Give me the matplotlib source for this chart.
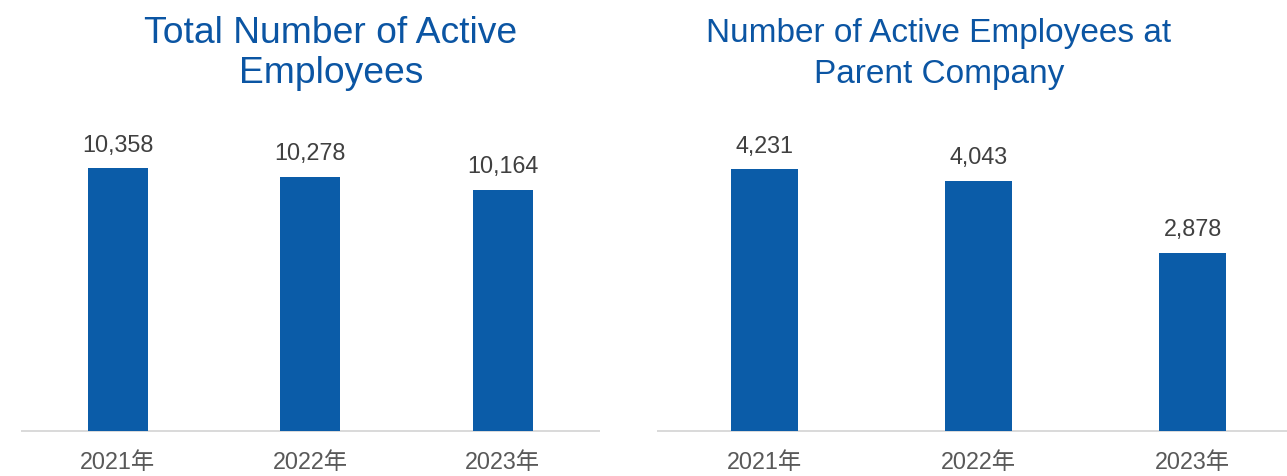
import matplotlib
matplotlib.use("Agg")
import matplotlib.pyplot as plt

years = ["2021年", "2022年", "2023年"]
total_employees = [10358, 10278, 10164]
parent_employees = [4231, 4043, 2878]
titles = ["Total Number of Active\nEmployees", "Number of Active Employees at\nParent Company"]

W, H = 1287, 476
DPI = 100
BAR_COLOR = "#0B5CA8"
TITLE_COLOR = "#0B55A3"
VALUE_COLOR = "#404040"
TICK_COLOR = "#595959"
AXIS_COLOR = "#D9D9D9"
FONTS = ["Liberation Sans", "Noto Sans CJK SC", "DejaVu Sans"]

plt.rcParams["font.family"] = FONTS

fig = plt.figure(figsize=(W / DPI, H / DPI), dpi=DPI)

def px_rect(left, top, right, bottom):
    return [left / W, 1 - bottom / H, (right - left) / W, (bottom - top) / H]

axes_specs = [
    dict(rect=px_rect(21.7, 100, 599.0, 430.7), data=total_employees, ylim=(8000, 10971),
         title_x=331, title_size=26.8, baselines=(43.3, 83.3)),
    dict(rect=px_rect(657.7, 100, 1299.7, 430.7), data=parent_employees, ylim=(0, 5351),
         title_x=939, title_size=24.0, baselines=(41.7, 83.3)),
]

for spec, title in zip(axes_specs, titles):
    ax = fig.add_axes(spec["rect"])
    x = range(len(years))
    bars = ax.bar(x, spec["data"], width=0.312, color=BAR_COLOR, zorder=3)
    ax.set_xlim(-0.5, len(years) - 0.5)
    ax.set_ylim(*spec["ylim"])
    for s in ["top", "right", "left"]:
        ax.spines[s].set_visible(False)
    ax.spines["bottom"].set_color(AXIS_COLOR)
    ax.spines["bottom"].set_linewidth(1.4)
    ax.spines["bottom"].set_zorder(2)
    ax.set_yticks([])
    ax.set_xticks(list(x))
    ax.set_xticklabels(years, fontsize=16.8, color=TICK_COLOR)
    ax.tick_params(axis="x", length=0, pad=14.5)
    for rect, v in zip(bars, spec["data"]):
        ax.annotate(f"{v:,}", xy=(rect.get_x() + rect.get_width() / 2, rect.get_y() + rect.get_height()),
                    xytext=(0, 12), textcoords="offset points",
                    ha="center", va="baseline", fontsize=16.8, color=VALUE_COLOR)
    ax.patch.set_alpha(0)
    for line, base in zip(title.split("\n"), spec["baselines"]):
        fig.text(spec["title_x"] / W, 1 - base / H, line, ha="center", va="baseline",
                 fontsize=spec["title_size"], color=TITLE_COLOR)

fig.savefig("out.png", dpi=DPI)
